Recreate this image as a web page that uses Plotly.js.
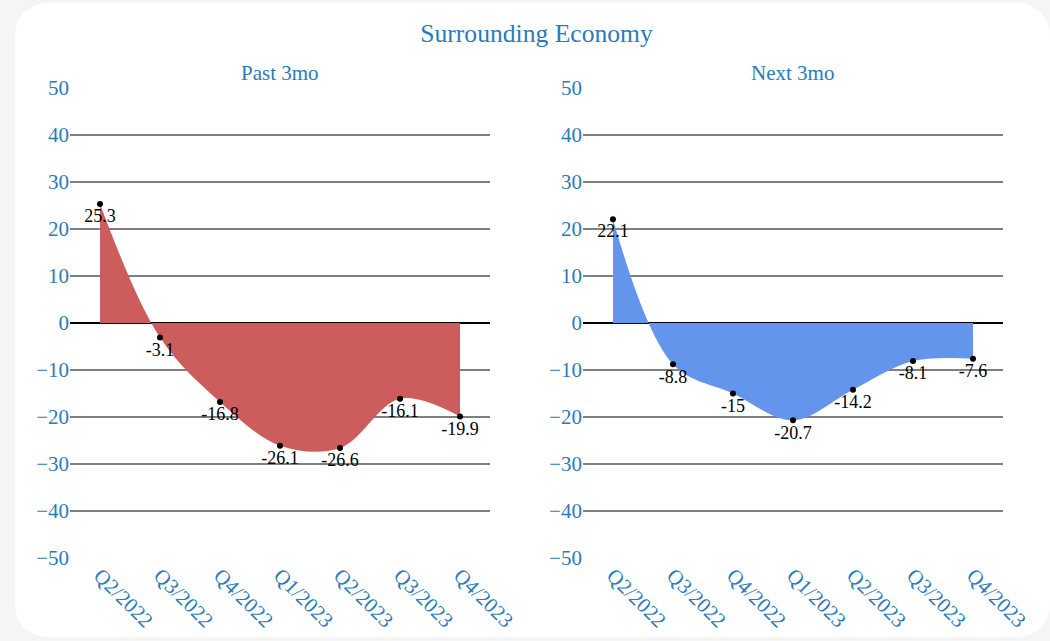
<!DOCTYPE html>
<html>
<head>
<meta charset="utf-8">
<script src="https://cdn.plot.ly/plotly-3.0.1.min.js"></script>
<style>
  html, body { margin: 0; padding: 0; background: #f5f5f5; width: 1050px; height: 641px; overflow: hidden; }
  #card { position: absolute; left: 15px; top: 3px; width: 1035px; height: 634px; background: #ffffff; border-radius: 32px; }
  #chart { position: absolute; left: 0; top: 0; width: 1050px; height: 641px; }
</style>
</head>
<body>
<div id="card"></div>
<div id="chart"></div>
<script>
const quarters = ["Q2/2022", "Q3/2022", "Q4/2022", "Q1/2023", "Q2/2023", "Q3/2023", "Q4/2023"];
const pastValues = [25.3, -3.1, -16.8, -26.1, -26.6, -16.1, -19.9];
const nextValues = [22.1, -8.8, -15, -20.7, -14.2, -8.1, -7.6];
const chartTitle = "Surrounding Economy";
const subTitles = ["Past 3mo", "Next 3mo"];
const yTicks = [-50, -40, -30, -20, -10, 0, 10, 20, 30, 40, 50];

const blue = "#2b7bba";
const serif = "'Liberation Serif', 'Times New Roman', serif";

function makeTrace(vals, color, xa, ya) {
  return {
    x: quarters, y: vals, xaxis: xa, yaxis: ya,
    type: "scatter", mode: "lines+markers+text",
    fill: "tozeroy", fillcolor: color,
    line: { shape: "spline", width: 0, color: color },
    marker: { color: "#000000", size: 6 },
    text: vals.map(String), textposition: "bottom center",
    textfont: { family: serif, size: 18, color: "#000000" },
    hoverinfo: "x+y", showlegend: false, cliponaxis: false
  };
}

function yAxis(anchor) {
  return {
    anchor: anchor, range: [-50, 50], tickvals: yTicks,
    showgrid: true, gridcolor: "#7f7f7f", gridwidth: 1.5,
    zeroline: true, zerolinecolor: "#000000", zerolinewidth: 2,
    ticks: "", ticklabelstandoff: 0,
    showline: false,
    tickfont: { family: serif, size: 21, color: blue }
  };
}
function xAxis(anchor, dom) {
  return {
    anchor: anchor, domain: dom, type: "category",
    range: [-0.5, 6.5], tickangle: 45,
    showgrid: false, zeroline: false, showline: false, ticks: "",
    tickfont: { family: serif, size: 21, color: blue }
  };
}

const data = [
  makeTrace(pastValues, "#cd5c5c", "x", "y"),
  makeTrace(nextValues, "#6495ed", "x2", "y2")
];

const layout = {
  width: 1050, height: 641,
  margin: { l: 70, r: 47, t: 88, b: 83 },
  paper_bgcolor: "rgba(0,0,0,0)", plot_bgcolor: "rgba(0,0,0,0)",
  font: { family: serif, color: blue },
  title: { text: chartTitle, x: 0.5, xref: "paper", y: 0.948, yref: "container", yanchor: "middle",
           font: { family: serif, size: 25.6, color: blue } },
  xaxis: xAxis("y", [0, 0.4502]),
  xaxis2: xAxis("y2", [0.5498, 1]),
  yaxis: yAxis("x"),
  yaxis2: yAxis("x2"),
  annotations: [
    { text: subTitles[0], xref: "x domain", yref: "paper", x: 0.5, y: 1.032, showarrow: false,
      xanchor: "center", yanchor: "middle", font: { family: serif, size: 21, color: blue } },
    { text: subTitles[1], xref: "x2 domain", yref: "paper", x: 0.5, y: 1.032, showarrow: false,
      xanchor: "center", yanchor: "middle", font: { family: serif, size: 21, color: blue } }
  ]
};

Plotly.newPlot("chart", data, layout, { displayModeBar: false, staticPlot: true });
</script>
</body>
</html>
